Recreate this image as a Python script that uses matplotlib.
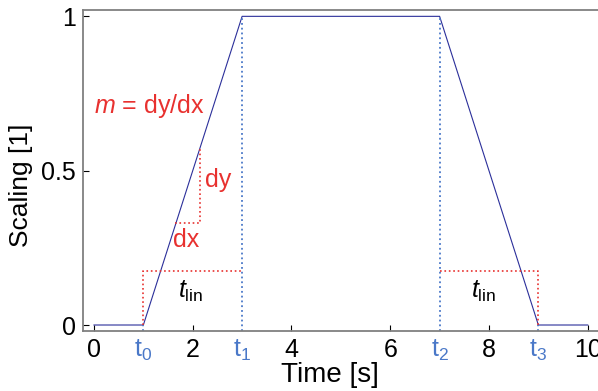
import matplotlib
matplotlib.use("Agg")
import matplotlib.pyplot as plt

plt.rcParams['font.family'] = ['Liberation Sans', 'DejaVu Sans']
plt.rcParams['mathtext.fontset'] = 'custom'
plt.rcParams['mathtext.rm'] = 'Liberation Sans'
plt.rcParams['mathtext.it'] = 'Liberation Sans:italic'

# trapezoid scaling profile
time = [0, 1, 3, 7, 9, 10]
scaling = [0, 0, 1, 1, 0, 0]

# switching instants
t_pos = [1, 3, 7, 9]
t_labels = [r'$\mathrm{t}_0$', r'$\mathrm{t}_1$', r'$\mathrm{t}_2$', r'$\mathrm{t}_3$']

# slope triangle
dx_x = [1.65, 2.15, 2.15]
dx_y = [0.33, 0.33, 0.575]

# t_lin markers
tlin_level = 0.175
tlin_left_x = [1, 1, 3]
tlin_right_x = [7, 9, 9]

xticks = [0, 2, 4, 6, 8, 10]
yticks = [0, 0.5, 1]
yticklabels = ['0', '0.5', '1']

red = '#e8312f'
navy = '#2b2f9a'
lblue = '#4a78c8'

fig = plt.figure(figsize=(5.98, 3.91), dpi=100)
ax = fig.add_axes([0.139, 0.153, 0.862, 0.821])

ax.plot(time, scaling, color=navy, lw=0.8)

for tp in [t_pos[1], t_pos[2]]:
    ax.plot([tp, tp], [-0.02, 1], color=lblue, lw=1.3, ls=':')
for tp in [t_pos[0], t_pos[3]]:
    ax.plot([tp, tp], [-0.02, 0], color=lblue, lw=1.3, ls=':')

ax.plot(dx_x, dx_y, color=red, lw=1.2, ls=':')
ax.plot(tlin_left_x, [0, tlin_level, tlin_level], color=red, lw=1.2, ls=':')
ax.plot(tlin_right_x, [tlin_level, tlin_level, 0], color=red, lw=1.2, ls=':')

ax.text(0.0, 0.71, r'$m$ = dy/dx', color=red, fontsize=18, va='center', ha='left')
ax.text(2.25, 0.47, 'dy', color=red, fontsize=18, va='center', ha='left')
ax.text(1.6, 0.275, 'dx', color=red, fontsize=18, va='center', ha='left')
ax.text(1.95, 0.11, r'$t_{\mathrm{lin}}$', color='black', fontsize=18, va='center', ha='center')
ax.text(7.9, 0.11, r'$t_{\mathrm{lin}}$', color='black', fontsize=18, va='center', ha='center')

ax.set_xlim(-0.22, 10.22)
ax.set_ylim(-0.02, 1.02)
ax.set_xticks(xticks)
ax.set_xticklabels([str(v) for v in xticks])
ax.set_xticks(t_pos, minor=True)
ax.set_xticklabels(t_labels, minor=True)
ax.set_yticks(yticks)
ax.set_yticklabels(yticklabels)

ax.tick_params(which='major', direction='in', length=4, width=0.8, labelsize=18, pad=5)
ax.tick_params(axis='x', which='minor', length=0, labelsize=18, labelcolor=lblue, pad=5)

for s in ax.spines.values():
    s.set_color('#808080')
    s.set_linewidth(1.3)
ax.spines['right'].set_visible(False)

ax.set_xlabel('Time [s]', fontsize=20)
ax.set_ylabel('Scaling [1]', fontsize=19)
ax.xaxis.set_label_coords(0.478, -0.095)
ax.yaxis.set_label_coords(-0.097, 0.455)

fig.savefig('out.png', dpi=100)
